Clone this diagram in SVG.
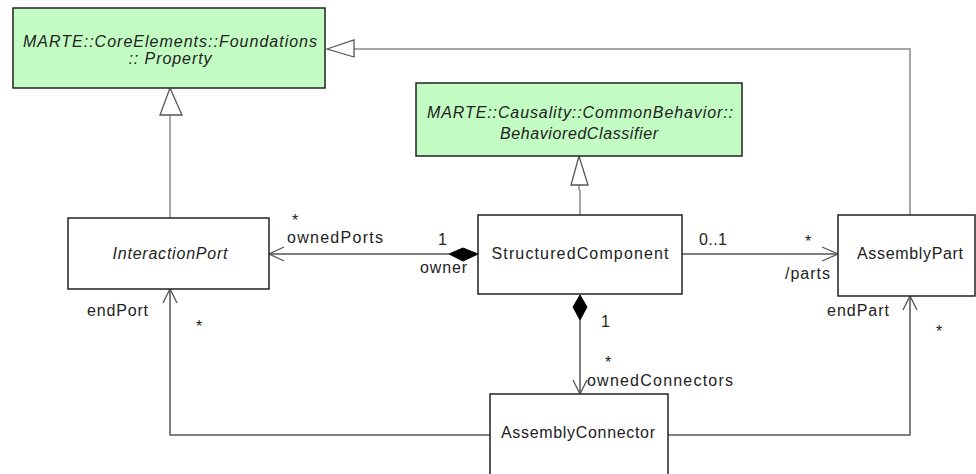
<svg xmlns="http://www.w3.org/2000/svg" width="976" height="474" viewBox="0 0 976 474">
  <style>
    text { font-family: "Liberation Sans", Arial, sans-serif; font-size: 16px; fill: #222222; }
    .it { font-style: italic; }
    .mid { text-anchor: middle; }
    .box { fill: #ffffff; stroke: #222222; stroke-width: 1.5; }
    .lib { fill: #c2fcc2; stroke: #222222; stroke-width: 1.5; }
    .gen { fill: none; stroke: #8a8a8a; stroke-width: 1.5; }
    .tri { fill: #ffffff; stroke: #555555; stroke-width: 1.3; }
    .assoc { fill: none; stroke: #555555; stroke-width: 1.5; }
    .head { fill: none; stroke: #555555; stroke-width: 1.3; }
    .dia { fill: #000000; stroke: #000000; stroke-width: 1; }
  </style>
  <rect width="976" height="474" fill="#ffffff"/>

  <!-- connectors -->
  <g id="connectors">
    <!-- InteractionPort generalizes Property -->
    <line class="gen" x1="170" y1="115" x2="170" y2="218"/>
    <polygon class="tri" points="170,88 160,115 182,115"/>
    <!-- AssemblyPart generalizes Property -->
    <polyline class="gen" points="910,215 910,49 354,49"/>
    <polygon class="tri" points="327,49 354,40 354,57"/>
    <!-- StructuredComponent generalizes BehavioredClassifier -->
    <polyline class="gen" points="580,215 580,191 579,189 579,185"/>
    <polygon class="tri" points="579,156 571,185 588,185"/>

    <!-- ownedPorts composition -->
    <line class="assoc" x1="449" y1="254" x2="269" y2="254"/>
    <polygon class="dia" points="478,254 463,248 449,254 463,261"/>
    <polyline class="head" points="284,247 269,254 284,261"/>

    <!-- parts association -->
    <line class="assoc" x1="682" y1="254" x2="838" y2="254"/>
    <polyline class="head" points="822,247 838,254 822,261"/>

    <!-- ownedConnectors composition -->
    <line class="assoc" x1="580" y1="320" x2="580" y2="394"/>
    <polygon class="dia" points="580,295 587,307 580,320 573,307"/>
    <polyline class="head" points="573,380 580,394 587,380"/>

    <!-- endPort -->
    <polyline class="assoc" points="490,435 170,435 170,289"/>
    <polyline class="head" points="163,303 170,289 177,303"/>

    <!-- endPart -->
    <polyline class="assoc" points="668,435 910,435 910,296"/>
    <polyline class="head" points="903,310 910,296 917,310"/>

    <!-- end labels -->
    <text x="292" y="226">*</text>
    <text x="287" y="243" textLength="96" lengthAdjust="spacing">ownedPorts</text>
    <text x="438" y="245">1</text>
    <text x="420" y="273" textLength="47" lengthAdjust="spacing">owner</text>
    <text x="699" y="245" textLength="28" lengthAdjust="spacing">0..1</text>
    <text x="805" y="247">*</text>
    <text x="785" y="279" textLength="45" lengthAdjust="spacing">/parts</text>
    <text x="601" y="327">1</text>
    <text x="605" y="368">*</text>
    <text x="587" y="386" textLength="146" lengthAdjust="spacing">ownedConnectors</text>
    <text x="87" y="316" textLength="61" lengthAdjust="spacing">endPort</text>
    <text x="196" y="332">*</text>
    <text x="827" y="316" textLength="62" lengthAdjust="spacing">endPart</text>
    <text x="936" y="337">*</text>
  </g>

  <!-- imported library classes -->
  <g id="Property">
    <rect class="lib" x="13" y="8" width="312" height="80"/>
    <text class="it mid" x="170" y="47" textLength="294" lengthAdjust="spacing">MARTE::CoreElements::Foundations</text>
    <text class="it mid" x="170" y="64" textLength="83" lengthAdjust="spacing">:: Property</text>
  </g>

  <g id="BehavioredClassifier">
    <rect class="lib" x="416" y="83" width="326" height="73"/>
    <text class="it mid" x="580" y="118" textLength="306" lengthAdjust="spacing">MARTE::Causality::CommonBehavior::</text>
    <text class="it mid" x="579" y="139" textLength="158" lengthAdjust="spacing">BehavioredClassifier</text>
  </g>

  <!-- model classes -->
  <g id="InteractionPort">
    <rect class="box" x="68" y="218" width="201" height="71"/>
    <text class="it mid" x="170" y="259" textLength="115" lengthAdjust="spacing">InteractionPort</text>
  </g>

  <g id="StructuredComponent">
    <rect class="box" x="478" y="215" width="204" height="79"/>
    <text class="mid" x="580" y="259" textLength="177" lengthAdjust="spacing">StructuredComponent</text>
  </g>

  <g id="AssemblyPart">
    <rect class="box" x="838" y="215" width="137" height="81"/>
    <text class="mid" x="910" y="259" textLength="106" lengthAdjust="spacing">AssemblyPart</text>
  </g>

  <g id="AssemblyConnector">
    <rect class="box" x="490" y="394" width="178" height="84"/>
    <text class="mid" x="578" y="438" textLength="154" lengthAdjust="spacing">AssemblyConnector</text>
  </g>
</svg>
